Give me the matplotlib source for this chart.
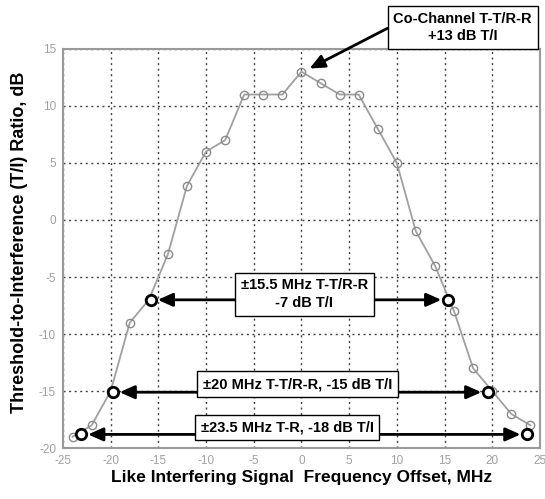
import numpy as np
import matplotlib.pyplot as plt

plt.rcParams['font.family'] = ['Liberation Sans', 'DejaVu Sans']
plt.rcParams['axes.unicode_minus'] = False

# measured T/I curve
freq = [-24, -22, -20, -18, -16, -14, -12, -10, -8, -6, -4, -2, 0,
        2, 4, 6, 8, 10, 12, 14, 16, 18, 20, 22, 24]
ti = [-19, -18, -15, -9, -7, -3, 3, 6, 7, 11, 11, 11, 13,
      12, 11, 11, 8, 5, -1, -4, -8, -13, -15, -17, -18]

# highlighted points
hl_x = [-15.8, 15.4, -19.8, 19.6, -23.1, 23.7]
hl_y = [-7, -7, -15.1, -15.1, -18.8, -18.8]

labels = ["\u00b115.5 MHz T-T/R-R\n-7 dB T/I",
          "\u00b120 MHz T-T/R-R, -15 dB T/I",
          "\u00b123.5 MHz T-R, -18 dB T/I"]
peak_label = "Co-Channel T-T/R-R\n+13 dB T/I"

fig = plt.figure(figsize=(5.45, 4.99), dpi=100)
ax = fig.add_axes([0.1156, 0.102, 0.875, 0.800])

ax.plot(freq, ti, color="#a0a0a0", linewidth=1.3, marker="o", markersize=6,
        markerfacecolor="none", markeredgecolor="#8c8c8c", markeredgewidth=1.0, zorder=3)
ax.plot(hl_x, hl_y, linestyle="none", marker="o", markersize=7.5,
        markerfacecolor="white", markeredgecolor="black", markeredgewidth=2.0, zorder=5)

ax.set_xlim(-25, 25)
ax.set_ylim(-20, 15)
ax.set_xticks(np.arange(-25, 26, 5))
ax.set_yticks(np.arange(-20, 16, 5))
ax.grid(True, color="#444444", linestyle=(0, (1.5, 2.5)), linewidth=1.0)
ax.tick_params(labelsize=8.5, colors="#a0a0a0", length=0, pad=5)
for s in ax.spines.values():
    s.set_color("#9a9a9a")
    s.set_linewidth(1.5)

ax.set_xlabel("Like Interfering Signal  Frequency Offset, MHz", fontsize=12.5,
              fontweight="bold", labelpad=2)
ax.set_ylabel("Threshold-to-Interference (T/I) Ratio, dB", fontsize=13,
              fontweight="bold")
ax.yaxis.set_label_coords(-0.074, 0.516)

fs = 10.5
box = dict(boxstyle="square,pad=0.4", facecolor="white", edgecolor="black", linewidth=1.0)
arrow = dict(arrowstyle="-|>,head_length=0.9,head_width=0.4", color="black", lw=2.0,
             shrinkA=0, shrinkB=5)

# co-channel box
ax.text(16.9, 16.9, peak_label, ha="center", va="center", fontsize=fs, fontweight="bold",
        bbox=box, zorder=6, clip_on=False, linespacing=1.3)
ax.annotate("", xy=(0.2, 13.0), xytext=(9.0, 16.8), arrowprops=arrow, annotation_clip=False)

# offset boxes
ax.text(0.3, -6.5, labels[0], ha="center", va="center", fontsize=fs, fontweight="bold",
        bbox=box, zorder=6, linespacing=1.3)
ax.annotate("", xy=(hl_x[0], hl_y[0]), xytext=(-7.0, -7), arrowprops=arrow, zorder=4)
ax.annotate("", xy=(hl_x[1], hl_y[1]), xytext=(7.6, -7), arrowprops=arrow, zorder=4)

ax.text(-0.4, -14.4, labels[1], ha="center", va="center", fontsize=fs, fontweight="bold",
        bbox=box, zorder=6)
ax.annotate("", xy=(hl_x[2], hl_y[2]), xytext=(-10.9, -15.1), arrowprops=arrow, zorder=4)
ax.annotate("", xy=(hl_x[3], hl_y[3]), xytext=(10.1, -15.1), arrowprops=arrow, zorder=4)

ax.text(-1.5, -18.2, labels[2], ha="center", va="center", fontsize=fs, fontweight="bold",
        bbox=box, zorder=6)
ax.annotate("", xy=(hl_x[4], hl_y[4]), xytext=(-10.3, -18.8), arrowprops=arrow, zorder=4)
ax.annotate("", xy=(hl_x[5], hl_y[5]), xytext=(7.4, -18.8), arrowprops=arrow, zorder=4)

fig.savefig("out.png", dpi=100)
